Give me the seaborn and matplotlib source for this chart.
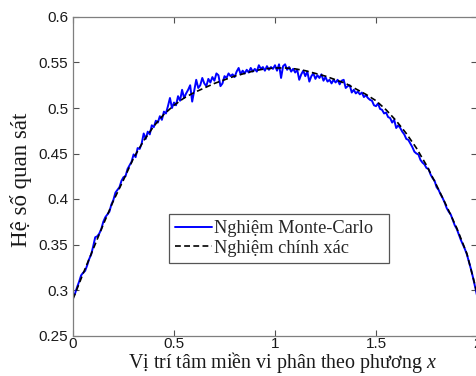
import numpy as np
import pandas as pd
import seaborn as sns
import matplotlib
matplotlib.use("Agg")
import matplotlib.pyplot as plt

# exact solution, x = 0, 0.05, ..., 2
x_exact = [round(0.05 * i, 2) for i in range(41)]
y_exact = [0.290, 0.318, 0.345, 0.372, 0.398, 0.421, 0.445, 0.464, 0.480, 0.493,
           0.503, 0.511, 0.517, 0.522, 0.527, 0.531, 0.535, 0.538, 0.541, 0.543,
           0.544, 0.544, 0.543, 0.541, 0.538, 0.535, 0.531, 0.527, 0.521, 0.515,
           0.508, 0.498, 0.486, 0.472, 0.456, 0.437, 0.415, 0.392, 0.368, 0.340,
           0.297]

# Monte-Carlo solution, x = 0, 0.01, ..., 2
x_mc = [round(0.01 * i, 2) for i in range(201)]
y_mc = [0.292, 0.296, 0.303, 0.309, 0.316, 0.319, 0.321, 0.327, 0.334, 0.339,
        0.348, 0.358, 0.359, 0.362, 0.367, 0.375, 0.380, 0.383, 0.386, 0.394,
        0.399, 0.407, 0.410, 0.413, 0.420, 0.424, 0.425, 0.433, 0.437, 0.441,
        0.449, 0.446, 0.456, 0.455, 0.461, 0.472, 0.466, 0.474, 0.471, 0.481,
        0.479, 0.486, 0.484, 0.491, 0.487, 0.496, 0.494, 0.502, 0.511, 0.500,
        0.506, 0.503, 0.513, 0.508, 0.520, 0.511, 0.516, 0.520, 0.525, 0.507,
        0.519, 0.531, 0.522, 0.525, 0.533, 0.527, 0.524, 0.532, 0.528, 0.534,
        0.530, 0.538, 0.536, 0.524, 0.527, 0.535, 0.533, 0.538, 0.535, 0.537,
        0.534, 0.540, 0.544, 0.537, 0.541, 0.538, 0.542, 0.539, 0.544, 0.540,
        0.543, 0.540, 0.547, 0.543, 0.545, 0.541, 0.546, 0.542, 0.545, 0.543,
        0.547, 0.541, 0.548, 0.533, 0.546, 0.548, 0.542, 0.545, 0.540, 0.543,
        0.539, 0.542, 0.531, 0.537, 0.541, 0.535, 0.540, 0.529, 0.535, 0.538,
        0.532, 0.536, 0.533, 0.537, 0.530, 0.534, 0.529, 0.531, 0.527, 0.531,
        0.528, 0.531, 0.526, 0.530, 0.531, 0.522, 0.524, 0.525, 0.517, 0.520,
        0.516, 0.518, 0.515, 0.517, 0.512, 0.514, 0.511, 0.509, 0.508, 0.503,
        0.502, 0.505, 0.499, 0.498, 0.494, 0.495, 0.490, 0.489, 0.484, 0.487,
        0.478, 0.481, 0.478, 0.474, 0.471, 0.466, 0.465, 0.461, 0.457, 0.452,
        0.450, 0.449, 0.443, 0.440, 0.438, 0.434, 0.433, 0.427, 0.423, 0.420,
        0.413, 0.410, 0.405, 0.401, 0.396, 0.390, 0.386, 0.383, 0.377, 0.371,
        0.367, 0.361, 0.355, 0.350, 0.345, 0.339, 0.331, 0.323, 0.314, 0.304,
        0.294]

xticks = [0, 0.5, 1, 1.5, 2]
xtick_labels = ["0", "0.5", "1", "1.5", "2"]
yticks = [0.25, 0.3, 0.35, 0.4, 0.45, 0.5, 0.55, 0.6]
ytick_labels = ["0.25", "0.3", "0.35", "0.4", "0.45", "0.5", "0.55", "0.6"]

label_mc = "Nghiệm Monte-Carlo"
label_exact = "Nghiệm chính xác"
xlabel = "Vị trí tâm miền vi phân theo phương "
ylabel = "Hệ số quan sát"

sns.set_style("ticks")
plt.rcParams["font.family"] = ["Liberation Sans", "DejaVu Sans"]
plt.rcParams["mathtext.fontset"] = "custom"
plt.rcParams["mathtext.it"] = "Liberation Serif:italic"
plt.rcParams["mathtext.rm"] = "Liberation Serif"

serif = ["Liberation Serif", "DejaVu Serif"]

W, H = 476, 376
fig = plt.figure(figsize=(W / 100, H / 100), dpi=100)
ax_l, ax_r, ax_t, ax_b = 73, 477, 17, 335.5
ax = fig.add_axes([ax_l / W, 1 - ax_b / H, (ax_r - ax_l) / W, (ax_b - ax_t) / H])

df_mc = pd.DataFrame({"x": x_mc, "y": y_mc})
df_ex = pd.DataFrame({"x": x_exact, "y": y_exact})
sns.lineplot(data=df_mc, x="x", y="y", ax=ax, color="#0000ff", linewidth=1.4,
             label=label_mc)
sns.lineplot(data=df_ex, x="x", y="y", ax=ax, color="black", linewidth=1.2,
             linestyle=(0, (3.5, 2.0)), label=label_exact)

ax.set_xlim(0, 2)
ax.set_ylim(0.25, 0.6)
ax.set_xticks(xticks)
ax.set_xticklabels(xtick_labels)
ax.set_yticks(yticks)
ax.set_yticklabels(ytick_labels)
ax.tick_params(direction="in", length=4, width=0.8, colors="#505050",
               labelcolor="#1a1a1a", labelsize=11, top=True, right=True)
ax.tick_params(axis="x", pad=0.8)
ax.tick_params(axis="y", pad=3.5)
for s in ax.spines.values():
    s.set_color("#7f7f7f")
    s.set_linewidth(0.9)
    s.set_visible(True)

ax.set_xlabel("")
ax.set_ylabel("")
fig.text(282 / W, 1 - 368 / H, xlabel + "$x$", ha="center", va="baseline",
         fontsize=14.4, family=serif, color="#1a1a1a")
fig.text(21 / W, 1 - 180 / H, ylabel, ha="center", va="center", rotation=90,
         fontsize=16.5, family=serif, color="#1a1a1a")

# legend box in pixels: x 169-389, y 214-263
lx0, lx1, ly0, ly1 = 169, 389, 214, 263
bb = ((lx0 - ax_l) / (ax_r - ax_l), (ax_b - ly1) / (ax_b - ax_t),
      (lx1 - lx0) / (ax_r - ax_l), (ly1 - ly0) / (ax_b - ax_t))
leg = ax.legend(loc="upper left", bbox_to_anchor=bb, mode="expand",
                prop={"family": serif, "size": 13.2},
                frameon=True, fancybox=False, edgecolor="#555555", framealpha=1,
                handlelength=2.0, borderpad=0.35, labelspacing=0.12, handletextpad=0.1,
                borderaxespad=0)
leg.get_frame().set_linewidth(0.9)

fig.savefig("out.png", dpi=100)
